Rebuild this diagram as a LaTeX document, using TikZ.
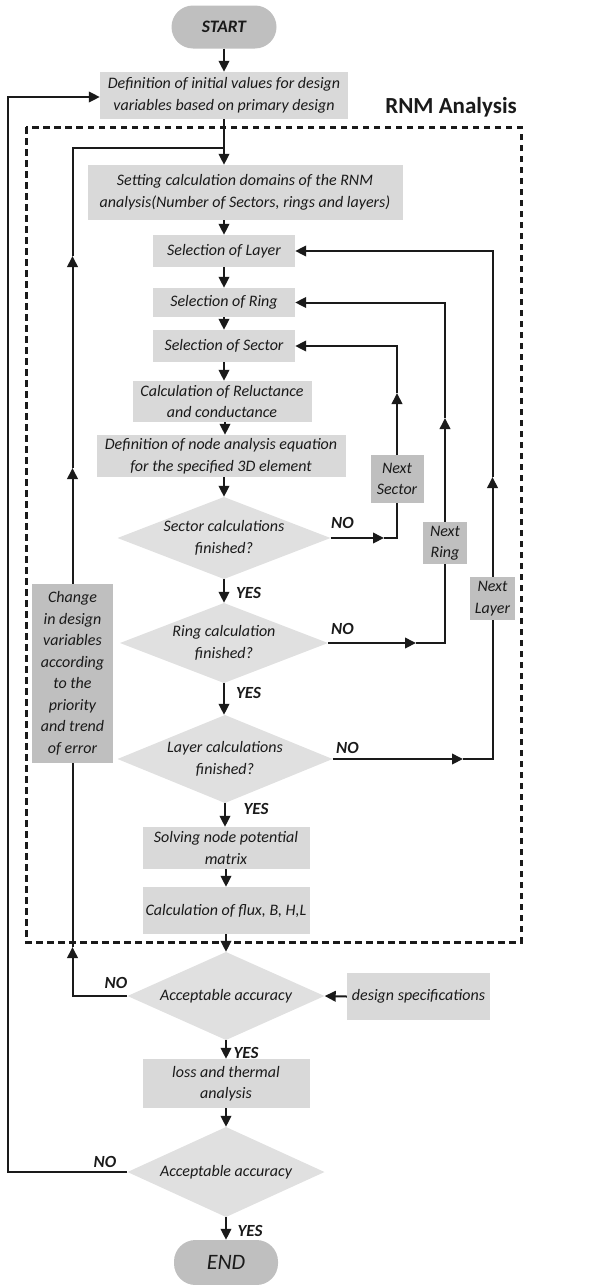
\documentclass[tikz,border=0pt]{standalone}
\usepackage{fontspec}
\setmainfont{Carlito}
\usetikzlibrary{arrows.meta,calc}
\definecolor{boxg}{HTML}{D9D9D9}
\definecolor{diag}{HTML}{E0E0E0}
\definecolor{darkg}{HTML}{BFBFBF}
\definecolor{ink}{HTML}{1A1A1A}
\begin{document}
\begin{tikzpicture}[x=1pt,y=-1pt,
  txt/.style={font=\fontsize{16}{21.5}\selectfont\itshape, text=ink, align=center},
  box/.style={txt, rectangle, fill=boxg, inner sep=0pt},
  dbox/.style={box, fill=darkg},
  term/.style={rectangle, rounded corners=21.5pt, fill=darkg, inner sep=0pt, text=ink},
  dia/.style={txt, rectangle, inner sep=0pt,
    path picture={\fill[diag] (path picture bounding box.north) -- (path picture bounding box.east) -- (path picture bounding box.south) -- (path picture bounding box.west) -- cycle;}},
  lab/.style={font=\fontsize{17}{20}\selectfont\bfseries\itshape, text=ink, inner sep=0pt},
  ln/.style={line width=2pt, draw=ink},
  arr/.style={ln, -{Triangle[length=11pt,width=10.5pt]}}
]
\useasboundingbox (0,0) rectangle (593,1285);

% RNM dashed frame
\coordinate (fA) at (26,127);
\coordinate (fB) at (521,942);
\draw[line width=3pt, draw=ink, dash pattern=on 6.5pt off 4.5pt] (fA) rectangle (fB);
\node[anchor=east, font=\fontsize{23}{26}\selectfont\bfseries, text=ink, inner sep=0pt] (rnm) at (517,107) {RNM Analysis};

% nodes
\node[term, minimum width=105pt, minimum height=43pt, font=\fontsize{17.5}{20}\selectfont\bfseries\itshape] (start) at (224,27) {START};
\node[box, minimum width=248pt, minimum height=47pt] (def) at (224,95.5) {Definition of initial values for design\\variables based on primary design};
\node[box, minimum width=315pt, minimum height=55pt] (set) at (245,192.5) {Setting calculation domains of the RNM\\analysis(Number of Sectors, rings and layers)};
\node[box, minimum width=142pt, minimum height=32pt] (layer) at (224,251) {Selection of Layer};
\node[box, minimum width=142pt, minimum height=29pt] (ring) at (224,302.5) {Selection of Ring};
\node[box, minimum width=142pt, minimum height=32pt] (sector) at (224,346) {Selection of Sector};
\node[box, minimum width=179pt, minimum height=41pt] (rel) at (222,401.5) {Calculation of Reluctance\\and conductance};
\node[box, minimum width=249pt, minimum height=42pt] (nodeq) at (221,456) {Definition of node analysis equation\\for the specified 3D element};
\node[dia, minimum width=213pt, minimum height=82pt] (d1) at (224,538) {Sector calculations\\finished?};
\node[dia, minimum width=208pt, minimum height=80pt] (d2) at (224,643) {Ring calculation\\finished?};
\node[dia, minimum width=215pt, minimum height=88pt] (d3) at (225,759) {Layer calculations\\finished?};
\node[dbox, minimum width=53pt, minimum height=48pt] (nsec) at (397,479) {Next\\Sector};
\node[dbox, minimum width=44pt, minimum height=42pt] (nring) at (445,543) {Next\\Ring};
\node[dbox, minimum width=45pt, minimum height=43pt] (nlay) at (492.5,598.5) {Next\\Layer};
\node[dbox, minimum width=81pt, minimum height=179pt] (change) at (72.5,673.5) {Change\\in design\\variables\\according\\to the\\priority\\and trend\\of error};
\node[box, minimum width=167pt, minimum height=42pt] (solve) at (226,848) {Solving node potential\\matrix};
\node[box, minimum width=167pt, minimum height=47pt] (flux) at (226,910.5) {Calculation of flux, B, H,L};
\node[dia, minimum width=197pt, minimum height=88pt] (acc1) at (226,996) {Acceptable accuracy};
\node[box, minimum width=143pt, minimum height=47pt] (spec) at (418.5,996.5) {design specifications};
\node[box, minimum width=167pt, minimum height=49pt] (loss) at (226,1083.5) {loss and thermal\\analysis};
\node[dia, minimum width=197pt, minimum height=90pt] (acc2) at (226,1172) {Acceptable accuracy};
\node[term, minimum width=104pt, minimum height=45pt, font=\fontsize{22}{24}\selectfont\itshape] (end) at (226,1262.5) {END};

% labels
\node[lab] (y1) at (248.5,593) {YES};
\node[lab] (y2) at (248.5,693) {YES};
\node[lab] (y3) at (256,809) {YES};
\node[lab] (y4) at (246,1053) {YES};
\node[lab] (y5) at (250,1231) {YES};
\node[lab] (n1) at (342.5,523) {NO};
\node[lab] (n2) at (342.5,629) {NO};
\node[lab] (n3) at (347.5,748) {NO};
\node[lab] (n4) at (116,983) {NO};
\node[lab] (n5) at (105,1162) {NO};

% main column
\draw[arr] (start.south) -- (def.north);
\draw[arr] (def.south) -- (def.south |- set.north);
\draw[arr] (set.south -| layer.north) -- (layer.north);
\draw[arr] (layer.south) -- (ring.north);
\draw[arr] (ring.south) -- (sector.north);
\draw[arr] (sector.south) -- (sector.south |- rel.north);
\draw[arr] ($(rel.south)+(3,0)$) -- ($(rel.south |- nodeq.north)+(3,0)$);
\draw[arr] (d1.north |- nodeq.south) -- (d1.north);
\draw[arr] (d1.south) -- (d2.north);
\draw[arr] (d2.south) -- (d2.south |- d3.north);
\draw[arr] (d3.south) -- (d3.south |- solve.north);
\draw[arr] (solve.south) -- (flux.north);
\draw[arr] (flux.south) -- (acc1.north);
\draw[arr] (acc1.south) -- (loss.north);
\draw[arr] (loss.south) -- (acc2.north);
\draw[arr] (acc2.south) -- (end.north);
\draw[arr] (spec.west) -- (acc1.east);

% sector loop
\coordinate (sA) at (384,538);
\coordinate (sB) at (397,393);
\draw[arr] (d1.east) -- (sA);
\draw[ln] (sA) -| (nsec.south);
\draw[arr] (nsec.north) -- (sB);
\draw[arr] (sB) |- (sector.east);

% ring loop
\coordinate (rA) at (416,643);
\coordinate (rB) at (445,418);
\draw[arr] (d2.east) -- (rA);
\draw[ln] (rA) -| (nring.south);
\draw[arr] (nring.north) -- (rB);
\draw[arr] (rB) |- (ring.east);

% layer loop
\coordinate (yA) at (463,759);
\coordinate (yB) at (492.5,477);
\draw[arr] (d3.east) -- (yA);
\draw[ln] (yA) -| (nlay.south);
\draw[arr] (nlay.north) -- (yB);
\draw[arr] (yB) |- (layer.east);

% inner design loop
\coordinate (lA) at (72.5,947);
\coordinate (lB) at (72.5,468);
\coordinate (lC) at (72.5,256);
\coordinate (jn) at (224,148);
\draw[arr] (acc1.west) -| (lA);
\draw[ln] (lA) -- (change.south);
\draw[arr] (change.north) -- (lB);
\draw[arr] (lB) -- (lC);
\draw[ln] (lC) |- (jn);

% outer loop
\coordinate (ol) at (8,0);
\draw[arr] (acc2.west) -- (acc2.west -| ol) |- ($(def.west)+(0,1.5)$);
\end{tikzpicture}
\end{document}
